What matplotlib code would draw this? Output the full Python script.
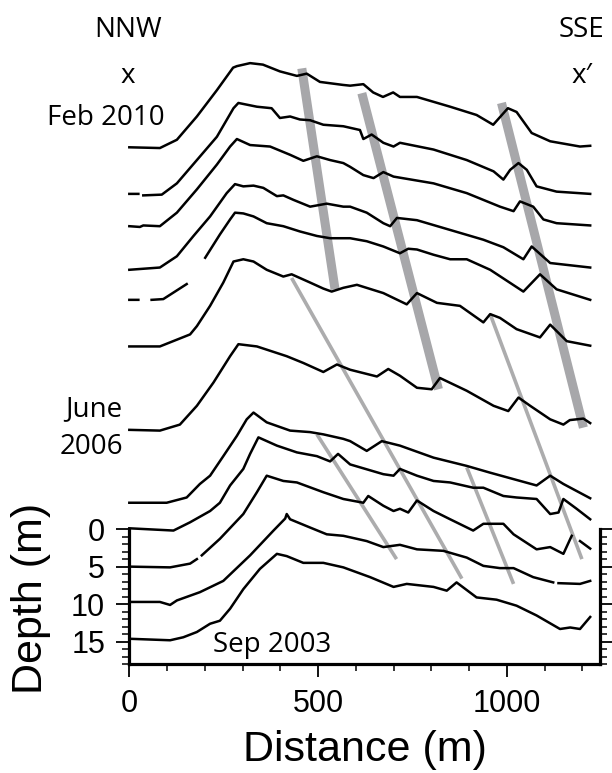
import numpy as np
import matplotlib.pyplot as plt
from matplotlib.ticker import FixedLocator

nan = np.nan

# repeat surveys along x - x', drawn top (Feb 2010) to bottom (Sep 2003),
# each stacked with its own depth offset (m); nan marks a data gap
p01_x = [0, 81, 126, 179, 232, 275, 285, 320, 354, 399, 444, 470, 505, 566, 585, 620, 646,
         672, 699, 717, 762, 850, 920, 964, 1003, 1026, 1066, 1115, 1194, 1221]
p01_z = [-50.8, -50.7, -51.8, -54.9, -58.4, -61.4, -61.6, -62.0, -61.8, -60.9, -60.3, -60.6,
         -59.5, -59.1, -59.0, -59.2, -58.1, -57.5, -58.1, -57.5, -57.5, -56.2, -55.1, -53.8,
         -56.0, -55.5, -52.7, -51.6, -50.9, -51.0]

p02_x = [0, 24, nan, 37, 86, 126, 179, 232, 276, 289, 338, 377, 399, 426, 452, 479, 514, 567,
         611, 620, 642, 673, 700, 717, 806, 894, 965, 991, 1009, 1031, 1053, 1079, 1132, 1221]
p02_z = [-44.6, -44.6, nan, -44.4, -44.5, -46.0, -49.1, -52.2, -56.0, -56.7, -56.2, -56.0,
         -54.7, -54.9, -54.5, -54.4, -53.8, -53.6, -53.1, -51.9, -52.5, -51.4, -50.9, -51.4,
         -50.5, -49.1, -47.6, -46.5, -47.8, -48.7, -47.8, -45.6, -44.9, -44.6]

p03_x = [0, 28, 37, 81, 126, 179, 232, 267, 285, 320, 373, 426, 461, 497, 532, 567, 585, 620,
         647, 673, 700, 806, 894, 982, 1018, 1035, 1070, 1097, 1132, 1221]
p03_z = [-40.3, -40.2, -40.4, -40.3, -42.1, -45.2, -48.5, -50.9, -51.9, -51.1, -50.9, -49.8,
         -49.0, -49.6, -49.1, -48.7, -48.2, -47.1, -46.7, -47.5, -46.9, -46.0, -44.7, -42.9,
         -42.3, -43.6, -42.9, -41.2, -40.7, -40.4]

p04_x = [0, 81, 126, 170, 214, 258, 280, 302, 329, 355, 391, 408, 435, 479, 523, 567, 585, 629,
         673, 691, 709, 762, 850, 938, 991, 1044, 1066, 1115, 1221]
p04_z = [-34.5, -34.8, -36.3, -39.0, -41.6, -44.7, -45.9, -45.6, -45.7, -45.4, -44.3, -44.4,
         -43.8, -42.9, -43.3, -42.9, -42.9, -42.1, -40.7, -40.3, -41.4, -41.1, -39.8, -38.5,
         -37.5, -35.9, -37.6, -35.4, -34.8]

p05_x = [0, 24, nan, 59, 90, 152, nan, 201, 240, 267, 280, 302, 329, 364, 408, 452, 497, 532,
         567, 585, 629, 673, 717, 739, 762, 806, 850, 894, 956, 1044, 1088, 1132, 1221]
p05_z = [-30.5, -30.5, nan, -30.5, -30.6, -32.6, nan, -36.1, -39.2, -41.2, -42.1, -42.0, -41.6,
         -40.7, -40.3, -39.6, -39.0, -38.7, -38.7, -38.7, -38.3, -37.6, -36.7, -37.3, -37.2,
         -36.5, -35.9, -35.9, -34.5, -31.6, -33.9, -31.9, -30.5]

p06_x = [0, 81, 126, 161, 179, 214, 249, 276, 302, 329, 364, 408, 430, 479, 514, 536, 567, 603,
         673, 735, 762, 815, 876, 938, 956, 982, 1026, 1088, 1115, 1159, 1221]
p06_z = [-24.3, -24.3, -25.2, -25.9, -27.0, -29.7, -32.8, -35.6, -35.9, -35.6, -34.5, -33.6,
         -33.9, -32.8, -32.0, -31.6, -32.1, -32.5, -31.4, -29.9, -31.4, -30.1, -29.7, -27.5,
         -28.6, -28.1, -26.6, -25.5, -27.2, -25.0, -24.4]

# June 2006
p07_x = [0, 81, 134, 179, 223, 267, 289, 338, 417, 461, 514, 550, 585, 656, 686, 717, 762, 801,
         823, 894, 965, 1004, 1031, 1062, 1115, 1150, 1167, 1203, 1221]
p07_z = [-13.2, -13.1, -13.9, -16.4, -19.5, -23.0, -24.6, -24.3, -23.0, -22.1, -20.9, -21.9,
         -21.2, -20.3, -21.3, -20.4, -18.8, -18.6, -20.1, -18.4, -16.4, -15.7, -17.5, -16.4,
         -14.6, -13.9, -14.5, -14.7, -14.1]

p08_x = [0, 99, 152, 187, 214, 249, 285, 311, 329, 364, 426, 479, 514, 567, 585, 629, 669, 717,
         806, 894, 956, 1079, 1115, 1150, 1221]
p08_z = [-3.5, -3.5, -4.2, -6.0, -7.1, -9.7, -12.4, -14.6, -15.5, -14.2, -13.1, -12.9, -12.6,
         -12.0, -11.7, -10.4, -11.7, -11.1, -9.5, -8.4, -7.5, -5.8, -7.1, -6.0, -4.1]

p09_x = [0, 117, 161, 214, 240, 267, 302, 320, 342, 391, 444, 497, 532, 553, 585, 673, 700, 717,
         762, 806, 850, 911, 938, 991, 1026, 1079, 1115, 1137, 1150, 1185, 1221]
p09_z = [-0.1, 0.2, -0.9, -2.4, -3.5, -5.8, -8.0, -10.0, -12.2, -11.1, -10.2, -9.7, -9.0, -10.0,
         -8.6, -7.3, -7.1, -8.0, -7.1, -6.4, -6.2, -5.5, -5.5, -4.4, -4.2, -4.0, -2.0, -2.2,
         -4.0, -2.7, -1.3]

p10_x = [0, 108, 161, 179, nan, 192, 240, 302, 338, 364, 408, 444, 514, 567, 620, 633, 673, 700,
         717, 739, 762, 806, 850, 911, 938, 991, 1018, 1079, 1115, 1150, 1172, nan, 1194, 1221]
p10_z = [5.0, 5.1, 4.6, 4.0, nan, 3.5, 1.3, -2.0, -4.9, -7.1, -6.4, -6.2, -4.9, -4.0, -3.5,
         -4.4, -3.1, -2.4, -2.7, -2.2, -3.8, -2.4, -1.3, 0.2, -0.7, -0.7, 0.7, 2.7, 2.4, 3.3,
         0.9, nan, 1.6, 2.6]

p11_x = [0, 81, 108, 126, 187, 249, 320, 382, 413, 417, 426, 479, 523, 567, 585, 629, 673, 717,
         762, 832, 894, 938, 982, 1018, 1070, 1123, nan, 1137, 1194, 1221]
p11_z = [9.7, 9.7, 10.1, 9.5, 8.4, 6.9, 3.5, 0.2, -1.4, -2.0, -1.3, -0.2, 0.7, 0.9, 1.1, 1.6,
         2.4, 2.1, 2.7, 2.9, 3.8, 4.9, 5.2, 5.2, 6.4, 7.1, nan, 7.2, 7.3, 6.9]

# Sep 2003
p12_x = [0, 108, 143, 179, 214, 240, 267, 302, 346, 391, 417, 461, 514, 567, 638, 700, 735, 806,
         841, 867, 920, 973, 1026, 1079, 1141, 1168, 1194, 1221]
p12_z = [14.6, 14.8, 14.4, 13.7, 12.6, 12.2, 10.6, 8.0, 5.3, 3.3, 3.6, 4.5, 4.5, 5.1, 6.4, 7.7,
         7.3, 7.7, 8.2, 7.1, 9.1, 9.4, 10.2, 11.5, 13.3, 13.1, 13.3, 11.7]

profiles = [(p01_x, p01_z), (p02_x, p02_z), (p03_x, p03_z), (p04_x, p04_z),
            (p05_x, p05_z), (p06_x, p06_z), (p07_x, p07_z), (p08_x, p08_z),
            (p09_x, p09_z), (p10_x, p10_z), (p11_x, p11_z), (p12_x, p12_z)]

# crest tracks: start / end (distance, plotted depth)
thick_x = [(457, 545), (616, 819), (986, 1203)]
thick_z = [(-61.3, -31.9), (-58.0, -18.6), (-56.7, -13.5)]
thin_x = [(430, 881), (497, 708), (956, 1199), (894, 1018)]
thin_z = [(-33.4, 6.6), (-12.6, 4.0), (-28.6, 4.0), (-8.2, 7.3)]

plt.rcParams['font.family'] = ['Liberation Sans', 'DejaVu Sans']
note_font = ['Open Sans', 'DejaVu Sans']

fig = plt.figure(figsize=(6.12, 7.73), dpi=100)
ax = fig.add_axes([0.2113, 0.1406, 0.7691, 0.8594])
ax.set_xlim(0, 1247)
ax.set_ylim(18, -70.4)

for xs, zs in zip(thick_x, thick_z):
    ax.plot(xs, zs, color='#a7a7aa', lw=6.5, solid_capstyle='butt', zorder=1)
for xs, zs in zip(thin_x, thin_z):
    ax.plot(xs, zs, color='#acacad', lw=2.6, solid_capstyle='butt', zorder=1)
for xs, zs in profiles:
    ax.plot(xs, zs, color='black', lw=1.8, zorder=2, clip_on=False)

# frame only around the depth scale of the lowest profiles
ax.spines['top'].set_visible(False)
for side in ['left', 'right']:
    ax.spines[side].set_bounds(0, 18)
for side in ['left', 'right', 'bottom']:
    ax.spines[side].set_linewidth(2.3)

ax.xaxis.set_major_locator(FixedLocator([0, 500, 1000]))
ax.xaxis.set_minor_locator(FixedLocator(np.arange(0, 1247, 100)))
ax.yaxis.set_major_locator(FixedLocator([0, 5, 10, 15]))
ax.yaxis.set_minor_locator(FixedLocator(np.arange(0, 19, 1)))
ax.tick_params(axis='both', which='major', direction='out', length=9.5, width=1.3,
               labelsize=22, pad=8)
ax.tick_params(axis='both', which='minor', direction='out', length=5, width=1.1)
ax.tick_params(axis='y', which='both', left=True, right=True, labelright=False)
ax.tick_params(axis='x', which='both', top=False)

ax.set_xlabel('Distance (m)', fontsize=31, va='center')
ax.xaxis.set_label_coords(0.5, -0.129)
ax.set_ylabel('Depth (m)', fontsize=31, va='center')
ax.yaxis.set_label_coords(-0.209, 0.0998)

ax.text(-3, -65.5, 'NNW', family=note_font, fontsize=20, ha='center', va='baseline')
ax.text(1199, -65.5, 'SSE', family=note_font, fontsize=20, ha='center', va='baseline')
ax.text(-3, -59.4, 'x', family=note_font, fontsize=20, ha='center', va='baseline')
ax.text(1199, -59.4, 'x\u2032', family=note_font, fontsize=20, ha='center', va='baseline')
ax.text(94, -53.8, 'Feb 2010', family=note_font, fontsize=20, ha='right', va='baseline')
ax.text(-19, -15.0, 'June', family=note_font, fontsize=20, ha='right', va='baseline')
ax.text(-17, -10.0, '2006', family=note_font, fontsize=20, ha='right', va='baseline')
ax.text(222, 16.3, 'Sep 2003', family=note_font, fontsize=20, ha='left', va='baseline')

fig.savefig('out.png', dpi=100)
